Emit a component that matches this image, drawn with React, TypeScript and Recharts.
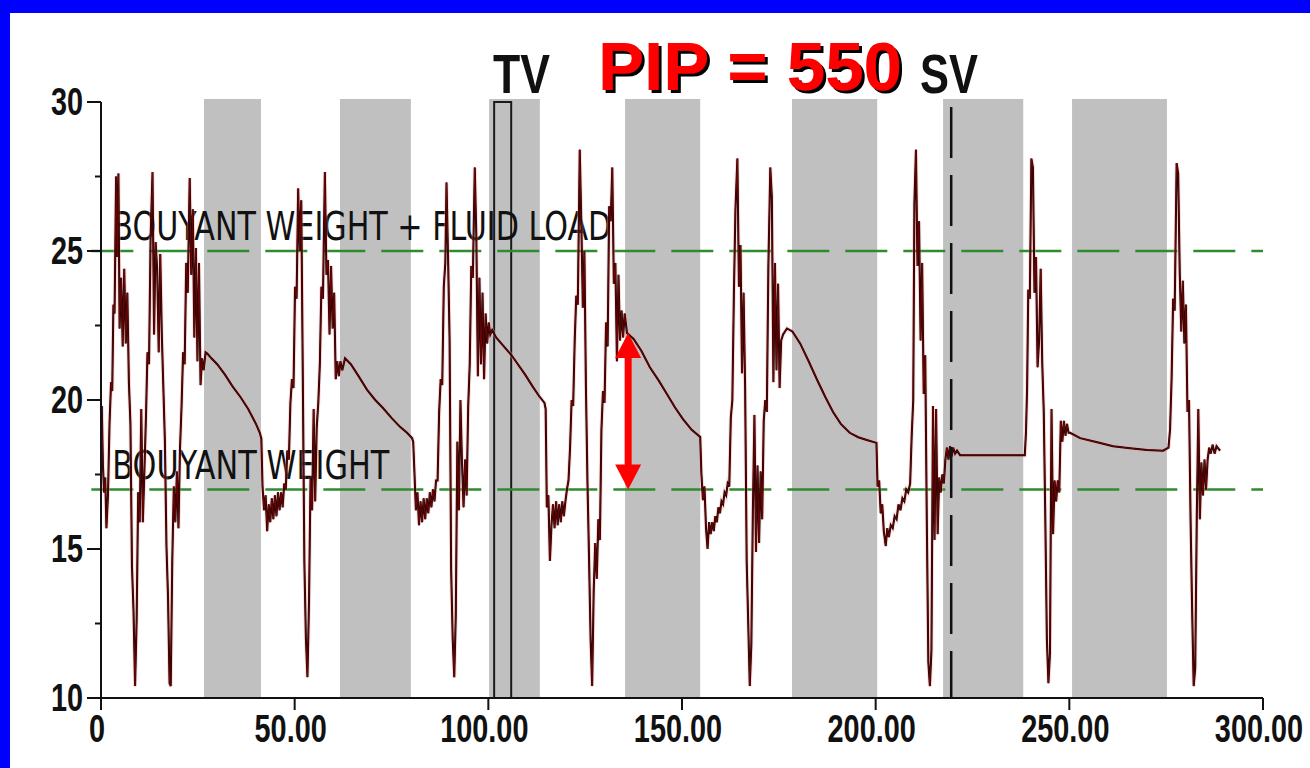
import React from 'react';
import { LineChart, Line, XAxis, YAxis, ReferenceArea, ReferenceLine } from 'recharts';

type Sample = [number, number];

// Polished-rod load samples per pump stroke: [time (s), load (klb)]
const stroke1: Sample[] = [
  [0.2, 19.8], [0.5, 17.8], [0.8, 16.9], [1.1, 17.4], [1.4, 15.7], [1.8, 16.8], [2.2, 19.2], [2.6, 20.6],
  [2.9, 20.3], [3.2, 23.2], [3.5, 22.9], [3.9, 27.5], [4.2, 24.8], [4.5, 27.6], [4.8, 22.4], [5.2, 24.1],
  [5.6, 21.8], [6.0, 24.4], [6.4, 21.9], [6.8, 23.6], [7.2, 20.6], [7.6, 19.2], [8.0, 14.4], [8.4, 12.9],
  [8.8, 10.4], [9.2, 12.6], [9.6, 16.9], [10.0, 15.9], [10.4, 19.7], [10.8, 15.9], [11.2, 17.6], [11.6, 19.4],
  [12.0, 21.6], [12.4, 21.2], [12.8, 25.4], [13.3, 27.65], [13.7, 22.2], [14.1, 25.3], [14.5, 24.4], [14.9, 21.6],
  [15.3, 24.9], [15.7, 22.2], [16.1, 20.4], [16.5, 18.6], [16.9, 15.1], [17.3, 13.4], [17.7, 10.5], [18.0, 10.4],
  [18.4, 14.6], [18.8, 17.1], [19.2, 15.9], [19.6, 17.6], [20.0, 15.7], [20.4, 18.4], [20.8, 19.8], [21.2, 21.6],
  [21.6, 21.2], [22.0, 24.6], [22.4, 23.6], [22.9, 27.45], [23.3, 24.2], [23.7, 26.4], [24.1, 22.1], [24.5, 25.1],
  [24.9, 21.3], [25.3, 24.6], [25.7, 20.5], [26.1, 21.4], [26.5, 21.0], [27.0, 21.6], [27.5, 21.55], [28.5, 21.4],
  [30, 21.2], [32, 20.85], [34, 20.45], [36, 20.1], [38, 19.7], [40, 19.2], [41.0, 18.9],
];

const stroke2: Sample[] = [
  [41.4, 18.7], [41.7, 17.1], [42.1, 16.3], [42.5, 16.8], [42.9, 15.6], [43.3, 16.5], [43.7, 15.9], [44.1, 16.7],
  [44.5, 16.0], [44.9, 16.8], [45.3, 16.1], [45.7, 16.9], [46.1, 16.3], [46.5, 16.9], [46.9, 16.4], [47.3, 17.2],
  [47.7, 17.0], [48.1, 18.3], [48.5, 18.0], [48.9, 19.9], [49.3, 20.7], [49.7, 20.4], [50.1, 23.8], [50.5, 23.4],
  [50.9, 27.1], [51.3, 25.0], [51.7, 26.7], [52.1, 20.8], [52.5, 14.6], [52.9, 12.0], [53.3, 10.7], [53.7, 13.2],
  [54.1, 17.4], [54.5, 16.3], [54.9, 19.7], [55.3, 16.6], [55.7, 19.1], [56.1, 19.9], [56.5, 21.2], [56.9, 23.8],
  [57.3, 23.4], [57.8, 27.65], [58.2, 24.2], [58.6, 24.7], [59.0, 22.2], [59.4, 24.5], [59.8, 22.4], [60.2, 23.6],
  [60.6, 20.7], [61.0, 21.3], [61.4, 20.8], [61.8, 21.3], [62.3, 21.0], [63.0, 21.4], [64.5, 21.2], [66.5, 20.8],
  [68.7, 20.34], [70.8, 20.0], [72.8, 19.73], [75, 19.4], [77.2, 19.1], [79, 18.9], [80.3, 18.72],
];

const stroke3: Sample[] = [
  [80.6, 18.6], [80.9, 17.65], [81.3, 16.3], [81.7, 16.9], [82.1, 15.8], [82.5, 16.6], [82.9, 15.9], [83.3, 16.7],
  [83.7, 16.0], [84.1, 16.7], [84.5, 16.2], [84.9, 16.9], [85.3, 16.4], [85.7, 17.0], [86.1, 16.6], [86.5, 17.3],
  [86.9, 17.3], [87.3, 19.6], [87.7, 20.7], [88.1, 20.5], [88.5, 23.8], [88.9, 24.6], [89.2, 27.3], [89.6, 24.8],
  [90.0, 22.0], [90.4, 14.3], [90.8, 12.0], [91.2, 10.7], [91.6, 12.8], [92.0, 18.6], [92.4, 16.3], [92.8, 20.0],
  [93.2, 17.9], [93.6, 16.4], [94.0, 18.0], [94.4, 16.8], [94.8, 19.8], [95.2, 21.2], [95.6, 24.5], [96.0, 24.1],
  [96.5, 27.8], [96.9, 25.5], [97.3, 20.8], [97.7, 24.1], [98.1, 21.2], [98.5, 23.6], [98.9, 20.7], [99.3, 22.9],
  [99.7, 21.9], [100.1, 22.6], [100.5, 22.2], [101, 22.35], [102, 22.1], [104, 21.8], [106, 21.5], [107.4, 21.24],
  [109.5, 20.85], [111.5, 20.44], [113.0, 20.15], [114.5, 19.9],
];

const stroke4: Sample[] = [
  [114.8, 19.7], [115.1, 16.4], [115.5, 16.8], [115.9, 14.6], [116.3, 15.8], [116.7, 16.5], [117.1, 15.7], [117.5, 16.6],
  [117.9, 15.8], [118.3, 16.5], [118.7, 15.9], [119.1, 16.6], [119.5, 16.1], [119.9, 16.6], [120.3, 17.0], [120.7, 17.3],
  [121.1, 18.4], [121.5, 20.0], [121.9, 19.8], [122.3, 22.0], [122.7, 23.5], [123.1, 23.2], [123.6, 28.4], [124.0, 26.0],
  [124.4, 23.1], [124.8, 25.0], [125.2, 20.4], [125.6, 17.2], [126.0, 14.7], [126.4, 12.0], [126.8, 10.4], [127.2, 13.6],
  [127.6, 15.2], [128.0, 14.0], [128.4, 16.0], [128.8, 15.3], [129.2, 19.0], [129.6, 20.3], [130.0, 19.9], [130.4, 22.6],
  [130.8, 21.8], [131.2, 26.5], [131.6, 26.0], [132.0, 27.8], [132.4, 23.9], [132.8, 24.6], [133.2, 21.3], [133.6, 24.2],
  [134.0, 22.0], [134.4, 23.0], [134.8, 22.1], [135.2, 22.9], [135.8, 22.25], [137.5, 22.05], [139.5, 21.65], [141.7, 21.1],
  [144, 20.65], [146.1, 20.2], [148.2, 19.75], [150.3, 19.35], [152.5, 19.0], [154.7, 18.76],
];

const stroke5: Sample[] = [
  [155.0, 17.55], [155.4, 16.64], [155.8, 17.1], [156.2, 15.7], [156.6, 15.0], [157.0, 15.9], [157.4, 15.5], [157.8, 15.9],
  [158.2, 15.6], [158.6, 16.1], [159.0, 15.9], [159.4, 16.4], [159.8, 16.2], [160.2, 16.6], [160.6, 16.5], [161.0, 16.9],
  [161.4, 16.8], [161.8, 17.2], [162.2, 17.1], [162.6, 19.4], [163.0, 20.0], [163.4, 23.6], [163.8, 26.4], [164.3, 28.1],
  [164.7, 23.8], [165.1, 25.2], [165.5, 20.9], [165.9, 23.6], [166.3, 20.4], [166.7, 14.6], [167.1, 12.5], [167.5, 10.4],
  [167.9, 11.8], [168.3, 16.3], [168.7, 19.5], [169.1, 14.9], [169.5, 17.8], [169.9, 15.2], [170.3, 17.6], [170.7, 16.0],
  [171.1, 19.3], [171.5, 20.0], [171.9, 19.6], [172.3, 24.5], [172.8, 27.8], [173.2, 26.8], [173.6, 20.6], [174.0, 24.6],
  [174.4, 21.0], [174.8, 23.9], [175.2, 20.4], [175.6, 22.0], [176.1, 22.2], [177.1, 22.4], [178.5, 22.3], [180.5, 21.9],
  [182.7, 21.3], [184.9, 20.67], [187, 20.1], [189, 19.6], [191, 19.2], [193.3, 18.9], [195.5, 18.75], [197.7, 18.66],
  [200.2, 18.56],
];

const stroke6: Sample[] = [
  [200.5, 17.1], [200.9, 17.3], [201.3, 16.2], [201.7, 16.5], [202.1, 15.6], [202.6, 15.1], [203.0, 15.7], [203.4, 15.4],
  [203.9, 15.8], [204.4, 15.7], [204.9, 16.1], [205.4, 16.0], [205.9, 16.5], [206.4, 16.3], [206.9, 16.7], [207.4, 16.6],
  [207.9, 17.0], [208.4, 16.9], [208.9, 17.2], [209.3, 18.8], [209.7, 20.0], [210.0, 26.6], [210.4, 28.4], [210.8, 24.5],
  [211.2, 26.0], [211.6, 22.0], [212.0, 24.6], [212.4, 20.2], [212.8, 21.5], [213.2, 16.0], [213.6, 11.2], [214.0, 10.4],
  [214.4, 11.6], [214.8, 19.8], [215.2, 15.3], [215.6, 19.7], [216.0, 15.5], [216.4, 17.4], [216.8, 16.9], [217.2, 17.5],
  [217.6, 17.2], [218.0, 18.0], [218.4, 18.4], [218.8, 18.0], [219.2, 18.45], [219.6, 18.1], [220.0, 18.4], [220.5, 18.2],
  [221.0, 18.3], [221.8, 18.15], [238.5, 18.15],
];

const stroke7: Sample[] = [
  [238.8, 18.9], [239.1, 20.4], [239.4, 23.7], [239.8, 23.4], [240.2, 28.1], [240.6, 27.8], [241.0, 23.6], [241.4, 24.8],
  [241.8, 21.1], [242.2, 22.0], [242.6, 24.4], [243.0, 21.25], [243.4, 19.6], [243.8, 16.0], [244.2, 12.0], [244.6, 10.5],
  [245.0, 11.5], [245.4, 19.7], [245.8, 15.5], [246.2, 17.3], [246.6, 16.6], [247.0, 17.3], [247.4, 16.9], [247.8, 19.3],
  [248.2, 18.6], [248.6, 19.3], [249.0, 18.8], [249.4, 19.2], [249.8, 18.9], [250.2, 18.9], [252.8, 18.72], [257.2, 18.58],
  [261.3, 18.45], [265.7, 18.38], [270.1, 18.32], [274.2, 18.3], [275.6, 18.4],
];

const stroke8: Sample[] = [
  [276.0, 19.0], [276.4, 20.7], [276.8, 23.4], [277.2, 23.0], [277.7, 27.95], [278.1, 27.6], [278.5, 24.3], [278.9, 22.3],
  [279.3, 24.0], [279.7, 21.9], [280.1, 23.2], [280.5, 19.6], [280.9, 20.0], [281.3, 16.0], [281.7, 13.0], [282.1, 10.4],
  [282.5, 11.0], [282.9, 16.0], [283.3, 19.7], [283.7, 16.0], [284.1, 17.9], [284.5, 16.8], [284.9, 18.0], [285.3, 17.0],
  [285.7, 18.0], [286.1, 18.4], [286.5, 18.2], [287.0, 18.5], [287.5, 18.2], [288.0, 18.45], [288.9, 18.3],
];

// Shaded stroke windows [start, end] in seconds
const shadedBands: [number, number][] = [
  [26.6, 41.3], [61.7, 80.0], [100.2, 113.3], [135.3, 154.7], [178.4, 200.4], [217.4, 238.1], [250.7, 275.2],
];

const xTicks = [0, 50, 100, 150, 200, 250, 300];
const yTicks = [10, 12.5, 15, 17.5, 20, 22.5, 25, 27.5, 30];

const buoyantWeight = 17;
const buoyantPlusFluid = 25;
const tvCheckWindow: [number, number] = [101.5, 105.9];
const svCheckTime = 219.5;
const pipSpan = { t: 136.1, low: 17, high: 22.25 };

const upperLabel = 'BOUYANT WEIGHT + FLUID LOAD';
const lowerLabel = 'BOUYANT WEIGHT';
const titleTV = 'TV';
const titlePIP = 'PIP = 550';
const titleSV = 'SV';

const loadTrace = [stroke1, stroke2, stroke3, stroke4, stroke5, stroke6, stroke7, stroke8]
  .flat()
  .map(([t, load]) => ({ t, load }));

const FONT = '"Liberation Sans", Arial, Helvetica, sans-serif';
const LABEL_FONT = '"DejaVu Sans", Verdana, sans-serif';

const formatX = (v: number) => (v === 0 ? '0' : v.toFixed(2));

const XTick = (props: any) => {
  const { x, y, payload } = props;
  return (
    <text
      transform={`translate(${x - 4},${y + 32}) scale(0.76,1)`}
      textAnchor="middle"
      fontFamily={FONT}
      fontWeight="bold"
      fontSize={38}
      fill="#111"
    >
      {formatX(payload.value)}
    </text>
  );
};

const YTick = (props: any) => {
  const { x, y, payload } = props;
  const axisX = x + 8;
  const v = payload.value as number;
  const major = v % 5 === 0;
  return (
    <g>
      <line x1={axisX - (major ? 14 : 6)} x2={axisX} y1={y} y2={y} stroke="#111" strokeWidth={2} />
      {major && (
        <text
          transform={`translate(${axisX - 18},${y + 13}) scale(0.76,1)`}
          textAnchor="end"
          fontFamily={FONT}
          fontWeight="bold"
          fontSize={38}
          fill="#111"
        >
          {v}
        </text>
      )}
    </g>
  );
};

const DoubleArrow = (p: any) => {
  const x = p.x1;
  const top = Math.min(p.y1, p.y2);
  const bottom = Math.max(p.y1, p.y2);
  const head = 25;
  const half = 13;
  const shaft = 3.5;
  return (
    <g fill="#ff0000">
      <polygon points={`${x},${top} ${x - half},${top + head} ${x + half},${top + head}`} />
      <rect x={x - shaft} y={top + head - 1} width={shaft * 2} height={bottom - top - head * 2 + 2} />
      <polygon points={`${x},${bottom} ${x - half},${bottom - head} ${x + half},${bottom - head}`} />
    </g>
  );
};

const lineLabel = (text: string, length: number, dx: number, dy: number) => (props: any) => {
  const vb = props.viewBox || {};
  return (
    <text
      x={vb.x + dx}
      y={vb.y + dy}
      fontFamily={LABEL_FONT}
      fontSize={39}
      fill="#111"
      textLength={length}
      lengthAdjust="spacingAndGlyphs"
    >
      {text}
    </text>
  );
};

export default function App() {
  return (
    <div style={{ position: 'fixed', left: 0, top: 0, width: 1310, height: 768, background: '#0000ff', overflow: 'hidden' }}>
      <div style={{ position: 'absolute', left: 10, top: 13, width: 1300, height: 755, background: '#ffffff' }}>
        <LineChart width={1300} height={755} data={loadTrace} margin={{ top: 89, right: 47, bottom: 0, left: 0 }}>
          {shadedBands.map(([a, b]) => (
            <ReferenceArea
              key={a}
              x1={a}
              x2={b}
              y1={10}
              y2={30.1}
              ifOverflow="visible"
              fill="#c0c0c0"
              fillOpacity={1}
              stroke="none"
            />
          ))}
          <XAxis
            dataKey="t"
            type="number"
            domain={[0, 300]}
            ticks={xTicks}
            interval={0}
            height={70}
            tickSize={12}
            tickMargin={0}
            axisLine={{ stroke: '#111', strokeWidth: 2 }}
            tickLine={{ stroke: '#111', strokeWidth: 2 }}
            tick={<XTick />}
          />
          <YAxis
            type="number"
            domain={[10, 30]}
            ticks={yTicks}
            interval={0}
            width={91}
            tickSize={8}
            tickMargin={0}
            axisLine={{ stroke: '#111', strokeWidth: 2 }}
            tickLine={false}
            tick={<YTick />}
          />
          <ReferenceLine
            segment={[{ x: -2.5, y: buoyantPlusFluid }, { x: 300, y: buoyantPlusFluid }]}
            ifOverflow="visible"
            stroke="#2e8b2e"
            strokeWidth={2.5}
            strokeDasharray="42 16"
            label={{ content: lineLabel(upperLabel, 499, 21, -11) }}
          />
          <ReferenceLine
            segment={[{ x: -2.5, y: buoyantWeight }, { x: 300, y: buoyantWeight }]}
            ifOverflow="visible"
            stroke="#2e8b2e"
            strokeWidth={2.5}
            strokeDasharray="42 16"
            label={{ content: lineLabel(lowerLabel, 277, 21, -10) }}
          />
          <Line type="linear" dataKey="load" stroke="#f2a0a0" strokeOpacity={0.4} strokeWidth={4} dot={false} activeDot={false} isAnimationActive={false} />
          <Line type="linear" dataKey="load" stroke="#0d0000" strokeWidth={2} dot={false} activeDot={false} isAnimationActive={false} />
          <Line type="linear" dataKey="load" stroke="#7a0606" strokeWidth={0.9} dot={false} activeDot={false} isAnimationActive={false} />
          <ReferenceArea
            x1={tvCheckWindow[0]}
            x2={tvCheckWindow[1]}
            y1={10}
            y2={30}
            ifOverflow="visible"
            fill="none"
            fillOpacity={0}
            stroke="#1a1a1a"
            strokeWidth={2}
          />
          <ReferenceLine
            segment={[{ x: svCheckTime, y: 29.83 }, { x: svCheckTime, y: 10 }]}
            ifOverflow="visible"
            stroke="#111"
            strokeWidth={2.5}
            strokeDasharray="51 17"
          />
          <ReferenceLine
            segment={[{ x: pipSpan.t, y: pipSpan.low }, { x: pipSpan.t, y: pipSpan.high }]}
            ifOverflow="visible"
            shape={DoubleArrow}
          />
        </LineChart>
      </div>
      <svg width={1310} height={768} style={{ position: 'absolute', left: 0, top: 0, pointerEvents: 'none' }}>
        <defs>
          <filter id="pip-shadow" x="-5%" y="-10%" width="115%" height="130%">
            <feDropShadow dx={3} dy={3} stdDeviation={0} floodColor="#000" floodOpacity={1} />
          </filter>
        </defs>
        <text x={493} y={93} fontFamily={FONT} fontWeight="bold" fontSize={55} textLength={57} lengthAdjust="spacingAndGlyphs" fill="#111">
          {titleTV}
        </text>
        <text
          x={598}
          y={90}
          fontFamily={FONT}
          fontWeight="bold"
          fontSize={68}
          textLength={304}
          lengthAdjust="spacingAndGlyphs"
          fill="#ff0000"
          filter="url(#pip-shadow)"
        >
          {titlePIP}
        </text>
        <text x={920} y={93} fontFamily={FONT} fontWeight="bold" fontSize={55} textLength={58} lengthAdjust="spacingAndGlyphs" fill="#111">
          {titleSV}
        </text>
      </svg>
    </div>
  );
}
